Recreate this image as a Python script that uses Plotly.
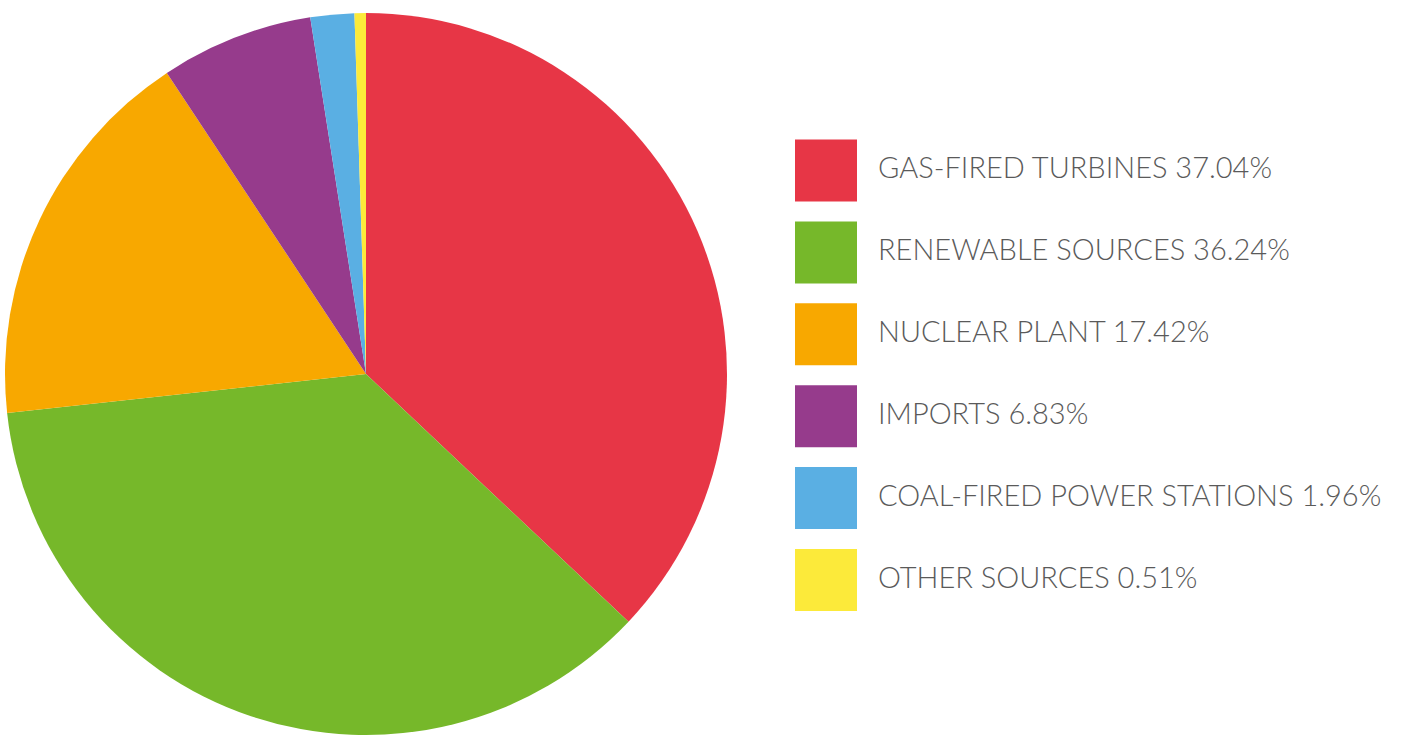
import plotly.graph_objects as go

labels = ["GAS-FIRED TURBINES", "RENEWABLE SOURCES", "NUCLEAR PLANT", "IMPORTS",
          "COAL-FIRED POWER STATIONS", "OTHER SOURCES"]
values = [37.04, 36.24, 17.42, 6.83, 1.96, 0.51]
colors = ["#E73646", "#76B82A", "#F8A800", "#963B8C", "#5AAFE3", "#FCEA3A"]

W, H = 1414, 736
cx, cy, r = 366, 374, 361
fig = go.Figure(go.Pie(
    labels=labels, values=values, sort=False, direction="clockwise", rotation=0,
    marker=dict(colors=colors, line=dict(width=0)),
    textinfo="none", hoverinfo="label+percent", showlegend=False,
    domain=dict(x=[(cx - r) / W, (cx + r) / W], y=[(H - cy - r) / H, (H - cy + r) / H]),
))

shapes, annotations = [], []
for i, (lab, val, col) in enumerate(zip(labels, values, colors)):
    top = 139.5 + i * 81.9
    shapes.append(dict(type="rect", xref="paper", yref="paper",
                       x0=795 / W, x1=857 / W, y0=1 - (top + 62) / H, y1=1 - top / H,
                       fillcolor=col, line=dict(width=0)))
    annotations.append(dict(xref="paper", yref="paper", x=876 / W, y=1 - (top + 27) / H,
                            xanchor="left", yanchor="middle", showarrow=False,
                            text=f"{lab} {val:.2f}%",
                            font=dict(family="Lato", size=29, color="#5a5a5a",
                                      weight=300)))

fig.update_layout(width=W, height=H, margin=dict(l=0, r=0, t=0, b=0),
                  paper_bgcolor="white", plot_bgcolor="white",
                  shapes=shapes, annotations=annotations)
fig.write_html("out.html")
